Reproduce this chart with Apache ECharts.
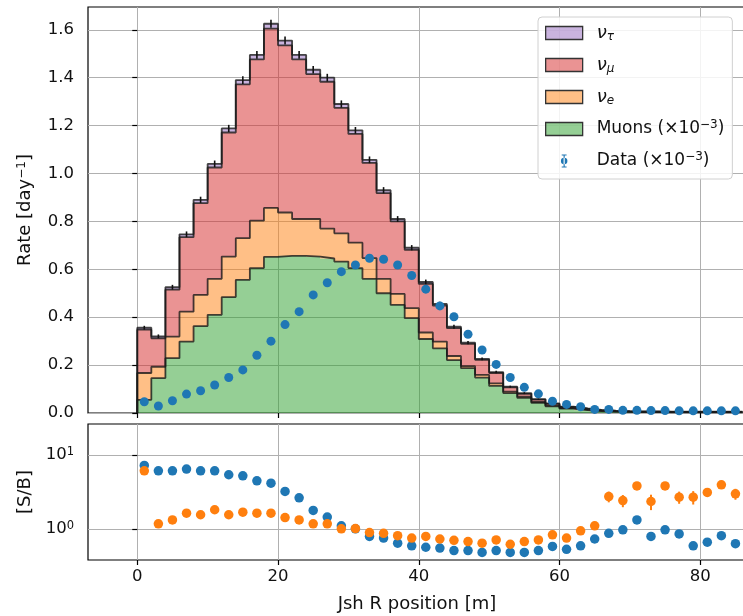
<!DOCTYPE html>
<html><head><meta charset="utf-8">
<script src="https://cdn.jsdelivr.net/npm/echarts@6/dist/echarts.min.js"></script>
<style>html,body{margin:0;padding:0;background:#fff}#c{width:743px;height:616px}</style>
</head><body><div id="c"></div>
<script>
// ---------- data ----------
const binWidth = 2;
const nBins = 43;              // bins from 0 to 86 m
const muons = [0.055,0.146,0.229,0.298,0.363,0.410,0.484,0.556,0.605,0.652,0.656,0.656,0.653,0.645,0.632,0.605,0.560,0.500,0.451,0.396,0.309,0.270,0.221,0.187,0.148,0.113,0.083,0.063,0.042,0.028,0.018,0.012,0.008,0.006,0.005,0.004,0.004,0.003,0.003,0.003,0.003,0.003,0.003];
const nuE = [0.112,0.047,0.090,0.125,0.130,0.150,0.169,0.174,0.198,0.204,0.181,0.154,0.157,0.125,0.118,0.106,0.087,0.060,0.046,0.042,0.027,0.028,0.017,0.009,0.011,0.011,0.006,0.005,0.004,0.003,0.002,0.002,0.001,0.001,0.001,0.001,0.001,0.001,0.001,0.001,0.001,0.001,0.001];
const nuMu = [0.181,0.119,0.196,0.311,0.383,0.465,0.518,0.642,0.673,0.749,0.698,0.666,0.605,0.613,0.524,0.454,0.397,0.358,0.303,0.243,0.203,0.150,0.116,0.093,0.063,0.043,0.018,0.012,0.010,0.007,0.005,0.004,0.003,0.002,0.001,0.001,0.001,0.001,0.001,0.001,0.001,0.001,0.001];
const nuTau = [0.008,0.008,0.010,0.012,0.014,0.015,0.017,0.018,0.019,0.020,0.020,0.019,0.018,0.017,0.016,0.015,0.013,0.012,0.010,0.009,0.008,0.007,0.006,0.005,0.004,0.004,0.003,0.003,0.002,0.002,0.002,0.001,0.001,0.001,0.001,0.001,0.001,0.001,0.001,0.001,0.001,0.001,0.001];
const totalErr = [0.008,0.008,0.010,0.012,0.013,0.014,0.015,0.016,0.016,0.017,0.017,0.016,0.016,0.016,0.015,0.014,0.014,0.013,0.012,0.011,0.010,0.009,0.008,0.007,0.006,0.005,0.004,0.004,0.003,0.003,0.002,0.002,0.002,0.002,0.002,0.002,0.002,0.002,0.002,0.002,0.002,0.002,0.002];
const dataRate = [0.047,0.029,0.051,0.079,0.093,0.117,0.148,0.180,0.241,0.300,0.369,0.423,0.493,0.544,0.590,0.618,0.646,0.642,0.618,0.574,0.517,0.447,0.402,0.329,0.263,0.203,0.148,0.107,0.080,0.049,0.036,0.026,0.015,0.015,0.011,0.011,0.010,0.010,0.009,0.009,0.009,0.009,0.009];
const sbBlue = [7.17,6.08,6.08,6.4,6.08,6.08,5.37,5.2,4.45,4.14,3.2,2.62,1.77,1.44,1.1,1.0,0.79,0.75,0.64,0.59,0.565,0.55,0.51,0.51,0.48,0.51,0.48,0.48,0.51,0.58,0.53,0.59,0.73,0.87,0.97,1.32,0.79,0.97,0.855,0.59,0.66,0.81,0.63];
const sbBlueErr = [0,0,0,0,0,0,0,0,0,0,0,0,0,0,0,0,0,0,0,0,0,0,0,0,0,0,0,0,0,0,0,0,0.03,0.05,0.06,0.15,0.06,0.07,0.07,0.05,0.05,0.06,0.05];
const sbOrange = [6.08,1.17,1.32,1.63,1.55,1.81,1.55,1.68,1.63,1.63,1.42,1.32,1.17,1.17,1.0,1.01,0.89,0.87,0.81,0.75,0.79,0.73,0.70,0.674,0.64,0.71,0.62,0.674,0.71,0.83,0.75,0.94,1.1,2.73,2.41,3.8,2.34,3.8,2.68,2.68,3.1,3.93,2.97];
const sbOrangeErr = [0,0,0,0,0,0,0,0,0,0,0,0,0,0,0,0,0,0,0,0,0,0,0,0,0,0,0,0,0,0,0,0.05,0.1,0.45,0.45,0.3,0.55,0.25,0.5,0.55,0.4,0.4,0.5];
const xTicks = [0,20,40,60,80];
const yTicksTop = [0,0.2,0.4,0.6,0.8,1.0,1.2,1.4,1.6];
const yTicksBottom = [1,10];

// ---------- helpers ----------
const binEdges = [];
for (let i = 0; i <= nBins; i++) binEdges.push(i * binWidth);
const centers = binEdges.slice(0, nBins).map(e => e + binWidth / 2);
const comps = [
  {name: 'muons', vals: muons, fill: 'rgba(44,160,44,0.5)'},
  {name: 'nue', vals: nuE, fill: 'rgba(255,127,14,0.5)'},
  {name: 'numu', vals: nuMu, fill: 'rgba(214,39,40,0.5)'},
  {name: 'nutau', vals: nuTau, fill: 'rgba(148,103,189,0.5)'}
];
let lower = new Array(nBins).fill(0);
const FONT = 'DejaVu Sans';
const TICK_FS = 16.5, NAME_FS = 18, LEG_FS = 17;
const series = [];
comps.forEach((c, k) => {
  const upper = lower.map((l, i) => l + c.vals[i]);
  const rects = upper.map((u, i) => [binEdges[i], binEdges[i + 1], lower[i], u]);
  series.push({
    name: c.name, type: 'custom', xAxisIndex: 0, yAxisIndex: 0, clip: true, z: 2,
    itemStyle: {color: c.fill},
    encode: {x: [0, 1], y: [2, 3]},
    data: rects,
    renderItem: (params, api) => {
      const a = api.coord([api.value(0), api.value(3)]);
      const b = api.coord([api.value(1), api.value(2)]);
      const x0 = Math.round(a[0]), x1 = Math.round(b[0]);
      return {type: 'rect', shape: {x: x0, y: a[1], width: x1 - x0, height: b[1] - a[1]},
              style: {fill: c.fill}};
    }
  });
  const pts = [[0, 0]];
  upper.forEach((u, i) => pts.push([binEdges[i], u]));
  pts.push([binEdges[nBins], upper[nBins - 1]]);
  series.push({
    name: 'outline' + k, type: 'line', step: 'end', xAxisIndex: 0, yAxisIndex: 0,
    symbol: 'none', silent: true, z: 3, clip: true,
    lineStyle: {color: 'rgba(25,25,25,0.8)', width: 1.8},
    data: pts
  });
  lower = upper;
});
const totals = lower;
series.push({
  name: 'totErr', type: 'custom', xAxisIndex: 0, yAxisIndex: 0, z: 4, silent: true,
  encode: {x: 0, y: 1},
  data: totals.map((t, i) => [centers[i], t, totalErr[i]]),
  renderItem: (params, api) => {
    const p1 = api.coord([api.value(0), api.value(1) - api.value(2)]);
    const p2 = api.coord([api.value(0), api.value(1) + api.value(2)]);
    return {type: 'line', shape: {x1: p1[0], y1: p1[1], x2: p2[0], y2: p2[1]},
            style: {stroke: '#111', lineWidth: 1.6}};
  }
});
series.push({
  name: 'data', type: 'scatter', xAxisIndex: 0, yAxisIndex: 0, z: 6,
  symbolSize: 9, itemStyle: {color: '#1f77b4', opacity: 1},
  data: dataRate.map((v, i) => [centers[i], v])
});
function errSeries(vals, errs, color) {
  return {
    type: 'custom', xAxisIndex: 1, yAxisIndex: 1, z: 5, silent: true, clip: true,
    encode: {x: 0, y: 1},
    data: vals.map((v, i) => [centers[i], v, errs[i]]).filter(d => d[2] > 0),
    renderItem: (params, api) => {
      const p1 = api.coord([api.value(0), api.value(1) - api.value(2)]);
      const p2 = api.coord([api.value(0), api.value(1) + api.value(2)]);
      return {type: 'line', shape: {x1: p1[0], y1: p1[1], x2: p2[0], y2: p2[1]},
              style: {stroke: color, lineWidth: 2}};
    }
  };
}
series.push(errSeries(sbBlue, sbBlueErr, '#1f77b4'));
series.push({
  name: 'sbBlue', type: 'scatter', xAxisIndex: 1, yAxisIndex: 1, z: 6,
  symbolSize: 9.5, itemStyle: {color: '#1f77b4', opacity: 1},
  data: sbBlue.map((v, i) => [centers[i], v])
});
series.push(errSeries(sbOrange, sbOrangeErr, '#ff7f0e'));
series.push({
  name: 'sbOrange', type: 'scatter', xAxisIndex: 1, yAxisIndex: 1, z: 7,
  symbolSize: 9.5, itemStyle: {color: '#ff7f0e', opacity: 1},
  data: sbOrange.map((v, i) => [centers[i], v])
});

const legendLabels = {
  nutau: '{nu|ν}{sub|τ}',
  numu: '{nu|ν}{sub|μ}',
  nue: '{nu|ν}{sub|e}',
  muons: 'Muons (×10{sup|−3})',
  data: 'Data (×10{sup|−3})'
};
const patch = (fill) => ({icon: 'rect', itemStyle: {color: fill, borderColor: '#333', borderWidth: 1.3}});
const errIcon = 'path://M5.3,0h1.4v16h-1.4z M3,0h6v1.3h-6z M3,14.7h6v1.3h-6z M2,8a4,4 0 1,0 8,0a4,4 0 1,0 -8,0z';

const xCommon = {
  type: 'value', min: -7, max: 86.5,
  axisLine: {show: false},
  axisTick: {show: true, inside: false, length: 5, customValues: xTicks, lineStyle: {color: '#000', width: 1.2}},
  splitLine: {show: true, lineStyle: {color: '#b0b0b0', width: 1}}
};

const option = {
  animation: false,
  backgroundColor: '#fff',
  textStyle: {fontFamily: FONT},
  grid: [
    {left: 88, top: 7, width: 658, height: 406, show: true, borderColor: '#000', borderWidth: 1.2,
     backgroundColor: 'transparent', outerBoundsMode: 'none', containLabel: false},
    {left: 88, top: 424, width: 658, height: 136, show: true, borderColor: '#000', borderWidth: 1.2,
     backgroundColor: 'transparent', outerBoundsMode: 'none', containLabel: false}
  ],
  xAxis: [
    Object.assign({}, xCommon, {gridIndex: 0, axisLabel: {show: false}}),
    Object.assign({}, xCommon, {gridIndex: 1,
      axisLabel: {show: true, customValues: xTicks, margin: 8, fontSize: TICK_FS, color: '#111', fontFamily: FONT},
      name: 'Jsh R position [m]', nameLocation: 'middle', nameGap: 35,
      nameTextStyle: {fontSize: NAME_FS, color: '#111', fontFamily: FONT}})
  ],
  yAxis: [
    {type: 'value', gridIndex: 0, min: 0, max: 1.695,
     axisLine: {show: false},
     axisTick: {show: true, length: 5, customValues: yTicksTop, lineStyle: {color: '#000', width: 1.2}},
     axisLabel: {customValues: yTicksTop, margin: 14, fontSize: TICK_FS, color: '#111', fontFamily: FONT,
                 formatter: v => v.toFixed(1)},
     splitLine: {show: true, lineStyle: {color: '#b0b0b0', width: 1}},
     name: 'Rate [day{sup|−1}]', nameLocation: 'middle', nameRotate: 90, nameGap: 54,
     nameTextStyle: {fontSize: NAME_FS, color: '#111', fontFamily: FONT,
                     rich: {sup: {fontSize: 12, verticalAlign: 'top', color: '#111', fontFamily: FONT}}}},
    {type: 'log', gridIndex: 1, min: 0.38, max: 26, logBase: 10,
     axisLine: {show: false},
     axisTick: {show: true, length: 5, customValues: yTicksBottom, lineStyle: {color: '#000', width: 1.2}},
     axisLabel: {customValues: yTicksBottom, margin: 14, fontSize: TICK_FS, color: '#111', fontFamily: FONT,
                 formatter: v => '10{sup|' + Math.round(Math.log10(v)) + '}',
                 rich: {sup: {fontSize: 11.5, verticalAlign: 'top', color: '#111', fontFamily: FONT}}},
     splitLine: {show: true, lineStyle: {color: '#b0b0b0', width: 1}},
     minorTick: {show: false},
     name: '[S/B]', nameLocation: 'middle', nameRotate: 90, nameGap: 54,
     nameTextStyle: {fontSize: NAME_FS, color: '#111', fontFamily: FONT}}
  ],
  legend: {
    orient: 'vertical', left: 538, top: 17,
    padding: [6, 8, 8, 7],
    itemWidth: 37, itemHeight: 13, itemGap: 12,
    backgroundColor: 'rgba(255,255,255,0.85)', borderColor: '#d0d0d0', borderWidth: 1, borderRadius: 4,
    selectedMode: false,
    data: [
      Object.assign({name: 'nutau'}, patch('rgba(148,103,189,0.5)')),
      Object.assign({name: 'numu'}, patch('rgba(214,39,40,0.5)')),
      Object.assign({name: 'nue'}, patch('rgba(255,127,14,0.5)')),
      Object.assign({name: 'muons'}, patch('rgba(44,160,44,0.5)')),
      {name: 'data', icon: errIcon, itemStyle: {color: '#1f77b4'}}
    ],
    formatter: n => legendLabels[n],
    textStyle: {fontSize: LEG_FS, color: '#111', fontFamily: FONT, lineHeight: 20, padding: [0, 0, 0, 9],
      rich: {
        nu: {fontSize: 18, fontStyle: 'italic', fontFamily: FONT, color: '#111'},
        sub: {fontSize: 12, fontStyle: 'italic', verticalAlign: 'bottom', fontFamily: FONT, color: '#111'},
        sup: {fontSize: 12, verticalAlign: 'top', fontFamily: FONT, color: '#111'}
      }}
  },
  series: series
};
const chart = echarts.init(document.getElementById('c'), null, {renderer: 'canvas'});
chart.setOption(option);
</script></body></html>
